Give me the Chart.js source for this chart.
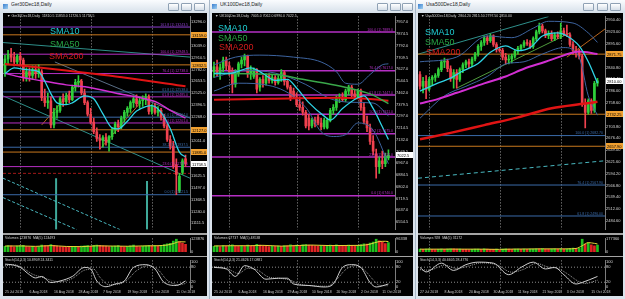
<!DOCTYPE html>
<html>
<head>
<meta charset="utf-8">
<title>Ger30 / UK100 / Usa500 Daily</title>
<script src="https://cdn.jsdelivr.net/npm/chart.js@4.4.1/dist/chart.umd.min.js"></script>
<style>
  body { margin:0; width:625px; height:299px; position:relative; overflow:hidden; background:#dbe3ec; font-family:"Liberation Sans", Arial, sans-serif; }
  .tbar { position:absolute; top:0; height:13px; background:linear-gradient(#fafcfe, #d6e0ea); }
  .frame { position:absolute; top:0; width:1px; height:299px; background:#a9b9c9; }
  .black { position:absolute; top:13px; height:283px; background:#000; }
  canvas { position:absolute; }
  .sep { position:absolute; background:#a4a4a4; }
  .btn { position:absolute; top:3px; width:11px; height:8px; border:1px solid #8fa1b4; border-radius:1px; background:linear-gradient(#ffffff, #d5dee8); box-sizing:border-box; }
  .ico { position:absolute; top:4px; width:5px; height:5px; background:linear-gradient(135deg,#3c7fd0,#9fd0f0); }
  .t { position:absolute; white-space:nowrap; transform:scale(.5); transform-origin:0 0; }
  .ttl { font-size:10px; line-height:10px; color:#1e1e1e; top:2px; }
  .hdr { font-size:7px; line-height:7px; color:#cfcfcf; }
  .sma { position:absolute; font-size:9px; line-height:9px; white-space:nowrap; }
</style>
</head>
<body>
<div class="tbar" style="left:0;width:209px"></div>
<div class="tbar" style="left:209px;width:206px"></div>
<div class="tbar" style="left:415px;width:210px"></div>
<div class="frame" style="left:209px"></div>
<div class="frame" style="left:415px"></div>
<div class="ico" style="left:3px"></div>
<div class="ico" style="left:212px"></div>
<div class="ico" style="left:418px"></div>
<div class="t ttl" style="left:11px">Ger30Dec18,Daily</div>
<div class="t ttl" style="left:220px">UK100Dec18,Daily</div>
<div class="t ttl" style="left:426px">Usa500Dec18,Daily</div>
<div class="btn" style="left:168px"></div><div class="btn" style="left:181px"></div><div class="btn" style="left:194px"></div>
<div class="btn" style="left:377px"></div><div class="btn" style="left:390px"></div><div class="btn" style="left:402px"></div>
<div class="btn" style="left:583px"></div><div class="btn" style="left:597px"></div><div class="btn" style="left:610px"></div>

<div class="black" style="left:3px;width:204px"></div>
<div class="black" style="left:212px;width:201px"></div>
<div class="black" style="left:418px;width:205px"></div>

<canvas id="gerP" width="204" height="220" style="left:3px;top:13px"></canvas>
<div class="sep" style="left:3px;top:233px;width:204px;height:2px"></div>
<canvas id="gerV" width="204" height="21" style="left:3px;top:235px"></canvas>
<div class="sep" style="left:3px;top:256px;width:204px;height:1px"></div>
<canvas id="gerS" width="204" height="39" style="left:3px;top:257px"></canvas>

<canvas id="ukP" width="201" height="220" style="left:212px;top:13px"></canvas>
<div class="sep" style="left:212px;top:233px;width:201px;height:2px"></div>
<canvas id="ukV" width="201" height="21" style="left:212px;top:235px"></canvas>
<div class="sep" style="left:212px;top:256px;width:201px;height:1px"></div>
<canvas id="ukS" width="201" height="39" style="left:212px;top:257px"></canvas>

<canvas id="usP" width="205" height="220" style="left:418px;top:13px"></canvas>
<div class="sep" style="left:418px;top:233px;width:205px;height:2px"></div>
<canvas id="usV" width="205" height="21" style="left:418px;top:235px"></canvas>
<div class="sep" style="left:418px;top:256px;width:205px;height:1px"></div>
<canvas id="usS" width="205" height="39" style="left:418px;top:257px"></canvas>

<div class="t hdr" style="left:7px;top:14px">&#9660; Ger30Dec18,Daily&nbsp; 11810.5 11853.0 11726.5 11758.5</div>
<div class="t hdr" style="left:215px;top:14px">&#9660; UK100Dec18,Daily&nbsp; 7005.0 7062.0 6990.0 7022.5</div>
<div class="t hdr" style="left:421px;top:14px">&#9660; Usa500Dec18,Daily&nbsp; 2804.20 2815.50 2797.50 2810.00</div>

<div class="sma" style="left:50px;top:27px;color:#1ecbd0">SMA10</div>
<div class="sma" style="left:50px;top:40px;color:#26a544">SMA50</div>
<div class="sma" style="left:49px;top:52px;color:#d41c1c">SMA200</div>
<div class="sma" style="left:218px;top:24px;color:#1ecbd0">SMA10</div>
<div class="sma" style="left:218px;top:34px;color:#26a544">SMA50</div>
<div class="sma" style="left:219px;top:43px;color:#d41c1c">SMA200</div>
<div class="sma" style="left:425px;top:28px;color:#1ecbd0">SMA10</div>
<div class="sma" style="left:425px;top:38px;color:#26a544">SMA50</div>
<div class="sma" style="left:426px;top:48px;color:#d41c1c">SMA200</div>

<div class="t hdr" style="left:5px;top:236px">Volumes 123876&nbsp; MA(5) 124493</div>
<div class="t hdr" style="left:5px;top:258px">Stoch(14,3,3) 10.8909 24.3411</div>
<div class="t hdr" style="left:214px;top:236px">Volumes 67737&nbsp; MA(5) 48538</div>
<div class="t hdr" style="left:214px;top:258px">Stoch(14,3,3) 21.4626 17.0881</div>
<div class="t hdr" style="left:420px;top:236px">Volumes 928&nbsp; MA(5) 31172</div>
<div class="t hdr" style="left:420px;top:258px">Stoch(14,3,3) 40.6605 28.4776</div>

<script>
// ---------- Ger30Dec18 daily ----------
const GER_OPEN = [12738, 12896, 12948, 12917, 12864, 12927, 12885, 12696, 12759, 12717,
  12780, 12738, 12759, 12475, 12422, 12443, 12180, 12317, 12338, 12464,
  12433, 12496, 12454, 12590, 12643, 12654, 12527, 12422, 12296, 12211,
  12106, 12032, 12011, 12043, 11990, 12053, 12127, 12190, 12159, 12254,
  12317, 12359, 12422, 12464, 12411, 12443, 12464, 12485, 12327, 12380,
  12317, 12338, 12264, 12169, 12022, 11948, 11748, 11464, 11664, 11810.5];
const GER_HIGH = [12938, 12991, 13012, 12970, 12948, 12970, 12906, 12801, 12801, 12822,
  12822, 12833, 12780, 12569, 12527, 12485, 12359, 12390, 12485, 12517,
  12527, 12548, 12612, 12675, 12717, 12675, 12569, 12443, 12359, 12254,
  12148, 12075, 12064, 12085, 12064, 12148, 12211, 12232, 12275, 12338,
  12380, 12443, 12496, 12506, 12485, 12496, 12517, 12506, 12401, 12411,
  12380, 12359, 12296, 12190, 12064, 12001, 11811, 11653, 11811, 11853];
const GER_LOW = [12706, 12843, 12864, 12822, 12833, 12822, 12654, 12654, 12654, 12675,
  12685, 12696, 12443, 12380, 12359, 12148, 12148, 12254, 12317, 12380,
  12401, 12422, 12443, 12548, 12590, 12506, 12401, 12275, 12190, 12085,
  12001, 11917, 11938, 11959, 11895, 12022, 12085, 12106, 12138, 12211,
  12275, 12317, 12369, 12380, 12359, 12380, 12401, 12296, 12296, 12296,
  12275, 12232, 12148, 12001, 11917, 11706, 11422, 11443, 11643, 11726.5];
const GER_CLOSE = [12896, 12948, 12917, 12864, 12927, 12885, 12696, 12759, 12717, 12780,
  12738, 12780, 12475, 12422, 12443, 12180, 12317, 12338, 12464, 12433,
  12496, 12454, 12590, 12643, 12654, 12527, 12422, 12296, 12211, 12106,
  12032, 12011, 12043, 11990, 12053, 12127, 12190, 12159, 12254, 12317,
  12359, 12422, 12464, 12411, 12443, 12464, 12485, 12327, 12380, 12317,
  12338, 12264, 12169, 12022, 11948, 11738, 11643, 11622, 11790, 11758.5];
const GER_VOL = [52000, 61000, 58000, 49000, 55000, 60000, 64000, 50000, 47000, 52000,
  49000, 51000, 66000, 60000, 58000, 70000, 62000, 55000, 50000, 48000,
  46000, 44000, 47000, 52000, 50000, 55000, 57000, 60000, 52000, 63000,
  66000, 64000, 58000, 55000, 50000, 53000, 56000, 61000, 52000, 49000,
  54000, 58000, 66000, 52000, 50000, 55000, 59000, 62000, 57000, 60000,
  58000, 64000, 70000, 78000, 82000, 104000, 123876, 98000, 86000, 72000];
const GER_VOL_MA = [[0, 56000], [5, 57000], [10, 53000], [15, 60000], [20, 52000], [25, 50000], [30, 58000],
  [35, 56000], [40, 54000], [45, 57000], [50, 59000], [53, 66000], [55, 80000], [57, 98000], [59, 97000]];
const GER_SMA10 = [[0, 12738], [3, 12800], [7, 12780], [11, 12759], [13, 12654], [15, 12520], [17, 12420],
  [20, 12400], [22, 12420], [26, 12496], [29, 12464], [32, 12300], [35, 12148], [37, 12138], [40, 12220],
  [43, 12330], [46, 12380], [48, 12390], [51, 12317], [54, 12140], [57, 11885], [59, 11832]];
const GER_SMA50 = [[0, 12740], [5, 12700], [12, 12660], [20, 12615], [28, 12585], [36, 12527],
  [45, 12470], [50, 12420], [54, 12338], [59, 12254]];
const GER_SMA200 = [[0, 12843], [20, 12770], [40, 12690], [59, 12601]];
const GER_LEVELS = [13243.5, 13159.0, 12948.5, 12832.5, 12738.0, 12538.0, 12485.0, 12264.0,
  12201.0, 12127.0, 11937.5, 11885.0, 11727.0, 11653.5, 11421.5];
const GER_LEVEL_NAMES = ['161.8', '', '100.0', '', '76.4', '61.8', '61.8', '50.0', '50.0', '', '38.2', '', '23.6', '', '0.0'];
const GER_TAGGED = [13159.0, 12832.5, 12127.0, 11885.0];
const GER_TRENDS = [
  [[-0.65, 13075], [60.46, 12917]],
  [[16.3, 12864], [60.46, 12254]],
  [[-0.65, 12496], [60.46, 11601]],
  [[-0.65, 11601], [37.6, 11042]],
  [[-0.65, 11390], [23.5, 11042]],
  [[12, 12180], [25, 12675]],
  [[31, 11917], [44, 12411]],
  [[16.7, 11601], [16.7, 11042]],
  [[46.4, 11570], [46.4, 11042]]
];
const GER_TICKS = [13296.0, 13167.5, 13039.0, 12910.5, 12782.0, 12653.5, 12525.0, 12396.5, 12268.0,
  12139.5, 12011.0, 11882.5, 11754.0, 11625.5, 11497.0, 11368.5, 11240.0, 11111.5];
const GER_STOCH_MAIN = [[0, 92], [2, 90], [5, 79], [8, 50], [10, 37], [12, 43], [15, 19], [18, 25], [22, 43],
  [26, 79], [28, 73], [30, 25], [33, 2], [36, 13], [39, 25], [42, 79], [46, 90], [49, 73], [52, 19], [56, 7], [59, 25]];
const GER_STOCH_SIGNAL = [[0, 85], [3, 90], [6, 75], [9, 52], [12, 40], [15, 28], [18, 22], [22, 35], [26, 68],
  [29, 72], [31, 40], [34, 10], [37, 12], [40, 30], [43, 66], [47, 86], [50, 70], [53, 28], [57, 10], [59, 15]];
const GER_DATES = ['25 Jul 2018', '6 Aug 2018', '16 Aug 2018', '28 Aug 2018', '7 Sep 2018', '19 Sep 2018', '1 Oct 2018', '11 Oct 2018'];
const GER_DATE_IDX = [0, 8, 16, 24, 32, 40, 48, 56];
const GER_MONTHS = [5, 28, 48];

// ---------- UK100Dec18 daily ----------
const UK_OPEN = [7610, 7644, 7597, 7637, 7692, 7651, 7610, 7522, 7597, 7665,
  7692, 7719, 7597, 7576, 7624, 7501, 7556, 7529, 7583, 7549,
  7569, 7535, 7563, 7603, 7542, 7501, 7474, 7433, 7379, 7359,
  7325, 7284, 7229, 7270, 7291, 7250, 7223, 7216, 7270, 7338,
  7359, 7427, 7433, 7413, 7474, 7501, 7454, 7433, 7474, 7359,
  7263, 7216, 7121, 7032, 6944, 6985, 6964, 7005];
const UK_HIGH = [7678, 7692, 7665, 7712, 7712, 7678, 7637, 7624, 7678, 7712,
  7733, 7726, 7651, 7637, 7631, 7569, 7583, 7597, 7597, 7590,
  7583, 7583, 7624, 7617, 7556, 7515, 7495, 7461, 7433, 7399,
  7338, 7311, 7284, 7291, 7311, 7284, 7284, 7284, 7352, 7379,
  7440, 7454, 7461, 7488, 7515, 7515, 7481, 7488, 7488, 7393,
  7298, 7243, 7161, 7066, 7012, 7053, 7039, 7062];
const UK_LOW = [7569, 7576, 7556, 7610, 7624, 7583, 7461, 7501, 7576, 7637,
  7651, 7569, 7556, 7563, 7461, 7474, 7501, 7515, 7529, 7529,
  7515, 7522, 7542, 7515, 7488, 7406, 7420, 7365, 7338, 7304,
  7216, 7202, 7216, 7223, 7236, 7202, 7209, 7209, 7257, 7311,
  7338, 7393, 7399, 7399, 7447, 7433, 7420, 7420, 7338, 7243,
  7189, 7100, 7025, 6862, 6896, 6930, 6944, 6990];
const UK_CLOSE = [7644, 7597, 7637, 7692, 7651, 7610, 7522, 7597, 7665, 7692,
  7719, 7597, 7624, 7624, 7488, 7556, 7529, 7583, 7549, 7569,
  7535, 7563, 7603, 7542, 7501, 7427, 7433, 7379, 7359, 7325,
  7229, 7229, 7270, 7243, 7250, 7223, 7270, 7270, 7338, 7359,
  7427, 7433, 7413, 7474, 7501, 7454, 7433, 7474, 7359, 7263,
  7216, 7121, 7053, 6944, 6985, 6964, 7019, 7022.5];
const UK_VOL = [42000, 45000, 40000, 47000, 43000, 46000, 52000, 44000, 41000, 45000,
  43000, 50000, 47000, 44000, 56000, 50000, 46000, 42000, 40000, 43000,
  41000, 44000, 42000, 46000, 45000, 52000, 48000, 50000, 47000, 52000,
  55000, 51000, 49000, 46000, 44000, 47000, 45000, 48000, 50000, 46000,
  52000, 49000, 47000, 45000, 50000, 48000, 46000, 49000, 54000, 60000,
  58000, 66000, 74000, 96338, 84000, 76000, 62000, 70000];
const UK_VOL_MA = [[0, 44000], [6, 46000], [12, 46000], [16, 49000], [22, 43000], [28, 48000], [32, 51000],
  [38, 47000], [44, 48000], [48, 49000], [51, 58000], [54, 78000], [56, 80000], [57, 78000]];
const UK_SMA10 = [[0, 7597], [5, 7597], [12, 7637], [16, 7597], [20, 7549], [24, 7556], [27, 7495], [31, 7393],
  [36, 7298], [38, 7270], [42, 7352], [47, 7427], [49, 7440], [52, 7352], [55, 7223], [57, 7134]];
const UK_SMA50 = [[0, 7597], [20, 7590], [29, 7556], [38, 7522], [44, 7495], [51, 7454], [57, 7386]];
const UK_SMA200 = [[0, 7413], [20, 7420], [40, 7427], [50, 7420], [57, 7406]];
const UK_BB_UP = [[0, 7658], [7, 7712], [15, 7726], [26, 7712], [35, 7678], [40, 7610], [43, 7529], [47, 7522],
  [51, 7590], [55, 7658], [57, 7665]];
const UK_BB_MID = [[0, 7570], [10, 7620], [20, 7600], [30, 7520], [38, 7420], [45, 7395], [52, 7390], [57, 7300]];
const UK_BB_LOW = [[0, 7474], [8, 7529], [19, 7508], [30, 7359], [35, 7189], [39, 7155], [43, 7168], [47, 7250],
  [52, 7200], [57, 6964]];
const UK_LEVELS = [7889.0, 7617.0, 7447.0, 7311.0, 7175.0, 7012.0, 6740.0];
const UK_LEVEL_NAMES = ['100.0', '76.4', '61.8', '50.0', '38.2', '23.6', '0.0'];
const UK_TICKS = [7957.0, 7874.5, 7792.0, 7709.5, 7627.0, 7544.5, 7462.0, 7379.5, 7297.0,
  7214.5, 7132.0, 7049.5, 6967.0, 6884.5, 6802.0, 6719.5, 6637.0, 6554.5];
const UK_STOCH_MAIN = [[0, 79], [4, 73], [7, 43], [10, 86], [13, 73], [17, 32], [21, 36], [24, 36], [26, 13],
  [31, 7], [36, 1], [39, 13], [42, 79], [45, 90], [48, 79], [51, 19], [53, 1], [57, 13]];
const UK_STOCH_SIGNAL = [[0, 82], [4, 76], [8, 55], [11, 75], [14, 70], [18, 40], [22, 35], [25, 28], [28, 12],
  [32, 6], [37, 4], [40, 30], [43, 70], [46, 86], [49, 70], [52, 30], [54, 8], [57, 6]];
const UK_DATES = ['25 Jul 2018', '6 Aug 2018', '16 Aug 2018', '29 Aug 2018', '10 Sep 2018', '20 Sep 2018', '2 Oct 2018', '11 Oct 2018'];
const UK_DATE_IDX = [0, 8, 16, 24, 32, 40, 48, 55];
const UK_MONTHS = [5, 27, 47];

// ---------- Usa500Dec18 daily ----------
const US_OPEN = [2824.4, 2797.4, 2808.7, 2790.7, 2813.2, 2817.7, 2822.2, 2835.7, 2853.7, 2855.9,
  2837.9, 2815.4, 2828.9, 2813.2, 2835.7, 2846.9, 2853.7, 2849.2, 2860.4, 2871.7,
  2889.7, 2898.7, 2909.9, 2903.2, 2914.4, 2894.2, 2882.9, 2880.7, 2864.9, 2858.2,
  2860.4, 2867.2, 2878.4, 2885.2, 2891.9, 2898.7, 2896.4, 2889.7, 2907.7, 2923.4,
  2936.9, 2925.7, 2914.4, 2918.9, 2907.7, 2916.7, 2912.2, 2925.7, 2918.9, 2916.7,
  2894.2, 2880.7, 2876.2, 2867.2, 2754.7, 2736.7, 2763.7, 2741.2, 2804.2];
const US_HIGH = [2831.2, 2817.7, 2822.2, 2817.7, 2822.2, 2826.7, 2840.2, 2858.2, 2862.7, 2860.4,
  2844.7, 2835.7, 2835.7, 2840.2, 2851.4, 2858.2, 2860.4, 2864.9, 2876.2, 2894.2,
  2903.2, 2914.4, 2914.4, 2918.9, 2916.7, 2898.7, 2887.4, 2885.2, 2873.9, 2869.4,
  2871.7, 2882.9, 2889.7, 2894.2, 2903.2, 2905.4, 2903.2, 2912.2, 2927.9, 2943.7,
  2941.4, 2930.2, 2925.7, 2925.7, 2921.2, 2923.4, 2943.7, 2932.4, 2939.2, 2921.2,
  2900.9, 2889.7, 2882.9, 2871.7, 2768.2, 2768.2, 2768.2, 2808.7, 2815.5];
const US_LOW = [2790.7, 2781.7, 2768.2, 2786.2, 2799.7, 2808.7, 2817.7, 2831.2, 2840.2, 2831.2,
  2808.7, 2792.9, 2792.9, 2808.7, 2828.9, 2840.2, 2840.2, 2842.4, 2855.9, 2867.2,
  2880.7, 2891.9, 2894.2, 2898.7, 2889.7, 2876.2, 2876.2, 2858.2, 2849.2, 2849.2,
  2851.4, 2862.7, 2871.7, 2880.7, 2887.4, 2891.9, 2885.2, 2885.2, 2903.2, 2918.9,
  2921.2, 2909.9, 2907.7, 2903.2, 2903.2, 2907.7, 2907.7, 2914.4, 2912.2, 2889.7,
  2871.7, 2864.9, 2860.4, 2750.2, 2700.7, 2732.2, 2734.4, 2736.7, 2797.5];
const US_CLOSE = [2797.4, 2808.7, 2790.7, 2813.2, 2817.7, 2822.2, 2835.7, 2853.7, 2855.9, 2837.9,
  2815.4, 2828.9, 2813.2, 2835.7, 2846.9, 2853.7, 2849.2, 2860.4, 2871.7, 2889.7,
  2898.7, 2909.9, 2903.2, 2914.4, 2894.2, 2882.9, 2880.7, 2864.9, 2858.2, 2860.4,
  2867.2, 2878.4, 2885.2, 2891.9, 2898.7, 2896.4, 2889.7, 2907.7, 2923.4, 2936.9,
  2925.7, 2914.4, 2918.9, 2907.7, 2916.7, 2912.2, 2925.7, 2918.9, 2916.7, 2894.2,
  2880.7, 2876.2, 2867.2, 2754.7, 2736.7, 2763.7, 2741.2, 2804.2, 2810.0];
const US_VOL = [38000, 34000, 36000, 40000, 33000, 31000, 35000, 38000, 34000, 36000,
  42000, 40000, 37000, 39000, 35000, 33000, 31000, 34000, 36000, 38000,
  35000, 40000, 37000, 34000, 33000, 36000, 20000, 38000, 40000, 37000,
  35000, 36000, 38000, 34000, 36000, 33000, 37000, 39000, 41000, 40000,
  45000, 38000, 36000, 39000, 42000, 37000, 40000, 38000, 41000, 47000,
  50000, 45000, 48000, 177360, 108000, 124000, 96000, 84000, 92000];
const US_VOL_MA = [[0, 36000], [10, 37000], [20, 36000], [26, 33000], [30, 37000], [40, 40000], [48, 40000],
  [51, 46000], [53, 84000], [55, 128000], [57, 118000], [58, 110000]];
const US_SMA10 = [[0, 2786], [6, 2805], [10, 2816], [13.5, 2831], [19, 2850], [23, 2876], [28, 2891], [32, 2880],
  [36, 2887], [40, 2914], [45, 2921], [48, 2914], [52, 2891], [55, 2854], [58, 2805]];
const US_SMA50 = [[0, 2757], [6, 2768], [12, 2782], [21, 2804], [28, 2820], [34, 2838], [41, 2854], [47, 2869],
  [52, 2878], [58, 2872]];
const US_SMA200 = [[0, 2674], [10, 2689], [21, 2707], [32, 2725], [43, 2746], [54, 2757], [58, 2761]];
const US_BB_UP = [[0, 2854], [12, 2865], [22, 2914], [30, 2910], [37, 2932], [42, 2948], [50, 2944], [55, 2921], [58, 2899]];
const US_BB_LOW = [[0, 2723], [8, 2775], [15, 2797], [22, 2820], [28, 2849], [34, 2854], [40, 2872], [47, 2887],
  [52, 2865], [55, 2775], [58, 2730]];
const US_LEVELS = [2871.75, 2732.25, 2657.90, 2682.70, 2567.90, 2496.00];
const US_LEVEL_NAMES = ['', '', '', '100.0', '76.4', '61.8'];
const US_TAGGED = [2871.75, 2732.25, 2657.90];
const US_TRENDS = [
  [[-0.65, 2871.7], [42, 2959]],
  [[12, 2792.9], [49, 2921.2]],
  [[48, 2864.9], [60.46, 2930.2]],
  [[-0.65, 2583.7], [60.46, 2624.2]]
];
const US_TICKS = [2950.40, 2923.00, 2895.60, 2868.20, 2840.80, 2813.40, 2786.00, 2758.60, 2731.20,
  2703.80, 2676.40, 2649.00, 2621.60, 2594.20, 2566.80, 2539.40, 2512.00, 2484.60];
const US_STOCH_MAIN = [[0, 79], [2, 61], [7, 96], [11, 67], [15, 90], [19, 100], [24, 96], [29, 50], [33, 79],
  [37, 100], [41, 73], [44, 79], [47, 50], [51, 13], [53, 19], [58, 43]];
const US_STOCH_SIGNAL = [[0, 70], [3, 68], [8, 88], [12, 75], [16, 85], [20, 97], [25, 90], [30, 60], [34, 72],
  [38, 95], [42, 80], [45, 75], [48, 55], [52, 22], [54, 15], [58, 28]];
const US_DATES = ['27 Jul 2018', '8 Aug 2018', '20 Aug 2018', '30 Aug 2018', '11 Sep 2018', '21 Sep 2018', '3 Oct 2018', '15 Oct 2018'];
const US_DATE_IDX = [0, 8, 16, 24, 32, 40, 48, 56];
const US_MONTHS = [3, 26, 46];

const STOCH_LEVELS = [80, 20];
const STOCH_TICKS = [0, 20, 80, 100];

// ---------- drawing ----------
Chart.defaults.font.family = '"Liberation Sans", Arial, sans-serif';
Chart.defaults.animation = false;

const UP = '#2fcf3a', DN = '#f0424f';
const VUP = '#1fbf1f', VDN = '#e02424';
const CYAN = '#2fd4e6', MAGENTA = '#d22fd2', GREEN = '#3aa84a', RED = '#e01414', BAND = '#3d64a0';
const ORANGE = '#c8781e', FIB = '#b52fc4', PURPLE = '#8d3fd0', BLUE = '#3a6aa8', DARKRED = '#a01818';

// grid lines at month starts, labels on fib lines, coloured price boxes on the axis
const mtExtras = {
  id: 'mtExtras',
  beforeDatasetsDraw(chart, args, opts) {
    const a = chart.chartArea, xs = chart.scales.x, ctx = chart.ctx;
    ctx.save();
    ctx.strokeStyle = 'rgba(205,205,205,0.75)';
    ctx.lineWidth = 1;
    ctx.setLineDash([1, 2]);
    (opts.vlines || []).forEach(i => {
      const px = Math.round(xs.getPixelForValue(i)) + 0.5;
      ctx.beginPath(); ctx.moveTo(px, a.top); ctx.lineTo(px, a.bottom); ctx.stroke();
    });
    ctx.restore();
  },
  afterDatasetsDraw(chart, args, opts) {
    const a = chart.chartArea, ys = chart.scales.y, ctx = chart.ctx;
    ctx.save();
    ctx.font = '3.5px "Liberation Sans", Arial';
    ctx.textAlign = 'right';
    ctx.textBaseline = 'bottom';
    (opts.notes || []).forEach(n => {
      ctx.fillStyle = n.color;
      ctx.fillText(n.text, a.right - 2, ys.getPixelForValue(n.value) - 0.5);
    });
    ctx.font = '4px "Liberation Sans", Arial';
    ctx.textAlign = 'left';
    ctx.textBaseline = 'middle';
    (opts.tags || []).forEach(t => {
      const py = Math.round(ys.getPixelForValue(t.value));
      ctx.fillStyle = t.color;
      ctx.fillRect(a.right + 1, py - 3, chart.width - a.right - 1, 6);
      ctx.fillStyle = '#000';
      ctx.fillText(t.text, a.right + 2, py + 0.5);
    });
    ctx.restore();
  }
};
Chart.register(mtExtras);

function line(points, color, width, order, dash, smooth) {
  return {
    type: 'line', order: order, data: points.map(q => ({x: q[0], y: q[1]})),
    borderColor: color, borderWidth: width, borderDash: dash || [],
    pointRadius: 0, fill: false, tension: smooth ? 0.4 : 0,
    cubicInterpolationMode: smooth ? 'monotone' : 'default'
  };
}

function yAxis(min, max, w, ticks, fmt) {
  return {
    position: 'right', min: min, max: max,
    afterFit: s => { s.width = w; },
    afterBuildTicks: s => { s.ticks = ticks.map(v => ({value: v})); },
    ticks: {font: {size: 4}, color: '#d6d6d6', padding: 1, autoSkip: false, callback: fmt},
    grid: {display: false, drawTicks: false},
    border: {display: true, color: '#7c7c7c'}
  };
}

function baseOptions(p, y, extras, xShown) {
  const x = {type: 'linear', min: p.xMin, max: p.xMax, offset: false, display: !!xShown};
  if (xShown) {
    Object.assign(x, {
      position: 'bottom',
      afterFit: s => { s.height = 7; },
      afterBuildTicks: s => { s.ticks = p.dateIdx.map(v => ({value: v})); },
      ticks: {font: {size: 3.5}, color: '#c8c8c8', padding: 1, align: 'start', autoSkip: false,
        maxRotation: 0, minRotation: 0, callback: (v, i) => p.dates[i]},
      grid: {display: false, drawTicks: false},
      border: {display: false}
    });
  }
  return {
    responsive: false, animation: false,
    layout: {padding: 0, autoPadding: false},
    events: [],
    plugins: {legend: {display: false}, tooltip: {enabled: false}, mtExtras: extras},
    scales: {x: x, y: y}
  };
}

function buildPanel(p) {
  const colors = p.close.map((c, i) => c >= p.open[i] ? UP : DN);
  const fmt = v => v.toFixed(p.dec);
  const sets = [];
  p.curves.forEach(c => sets.push(line(c.data, c.color, c.width, 0, null, true)));
  sets.push({type: 'bar', order: 1, grouped: false, barThickness: 2,
    data: p.open.map((o, i) => ({x: i, y: [o, p.close[i]]})), backgroundColor: colors});
  sets.push({type: 'bar', order: 1, grouped: false, barThickness: 1,
    data: p.high.map((h, i) => ({x: i, y: [p.low[i], h]})), backgroundColor: colors});
  p.levels.forEach((v, i) => sets.push(line([[p.xMin, v], [p.xMax, v]], p.levelColors[i], p.levelWidth, 2,
    p.levelColors[i] === DARKRED ? [3, 2] : null)));
  p.trends.forEach((t, i) => sets.push(line(t, p.trendStyles[i].color, p.trendStyles[i].width, 2, p.trendStyles[i].dash)));

  const notes = [];
  p.levels.forEach((v, i) => { if (p.levelNames[i]) notes.push({value: v, text: p.levelNames[i] + ' (1) ' + fmt(v), color: p.levelColors[i]}); });
  const tags = p.tagged.map(v => ({value: v, text: fmt(v), color: '#f0a030'}));
  const last = p.close[p.close.length - 1];
  tags.push({value: last, text: fmt(last), color: '#ffffff'});

  new Chart(document.getElementById(p.id + 'P'), {
    type: 'bar', data: {datasets: sets},
    options: baseOptions(p, yAxis(p.yMin, p.yMax, p.axisW, p.ticks, fmt), {vlines: p.months, notes: notes, tags: tags})
  });

  const vmax = Math.max(...p.vol);
  const vcol = p.vol.map((v, i) => (i > 0 && v < p.vol[i - 1]) ? VDN : VUP);
  new Chart(document.getElementById(p.id + 'V'), {
    type: 'bar',
    data: {datasets: [
      line(p.volMa, '#e8d43a', 1, 0, null, true),
      {type: 'bar', order: 1, barThickness: 2, data: p.vol.map((v, i) => ({x: i, y: v})), backgroundColor: vcol}
    ]},
    options: baseOptions(p, yAxis(-vmax * 0.07, vmax * 1.06, p.axisW, [0, vmax], v => String(Math.round(v))), {vlines: p.months})
  });

  new Chart(document.getElementById(p.id + 'S'), {
    type: 'line',
    data: {datasets: [
      line(p.stochMain, '#cfcfcf', 1, 0, null, true),
      line(p.stochSignal, '#9c9c9c', 1, 0, [1, 1], true)
    ].concat(STOCH_LEVELS.map(v => line([[p.xMin, v], [p.xMax, v]], '#8c8c8c', 1, 2, [1, 2])))},
    options: baseOptions(p, yAxis(-7, 107, p.axisW, STOCH_TICKS, v => String(v)), {vlines: p.months}, true)
  });
}

buildPanel({
  id: 'ger', axisW: 17, xMin: -0.65, xMax: 60.46, yMin: 11042.5, yMax: 13359.1, dec: 1,
  open: GER_OPEN, high: GER_HIGH, low: GER_LOW, close: GER_CLOSE, ticks: GER_TICKS,
  curves: [
    {data: GER_SMA10, color: CYAN, width: 1.3},
    {data: GER_SMA50, color: MAGENTA, width: 1.5},
    {data: GER_SMA200, color: RED, width: 2}
  ],
  levels: GER_LEVELS, levelNames: GER_LEVEL_NAMES, levelWidth: 1,
  levelColors: [PURPLE, ORANGE, FIB, ORANGE, FIB, BLUE, FIB, BLUE, FIB, ORANGE, BLUE, ORANGE, FIB, DARKRED, BLUE],
  tagged: GER_TAGGED,
  trends: GER_TRENDS,
  trendStyles: [
    {color: '#2e8f8a', width: 1}, {color: '#5a6f86', width: 1}, {color: '#2e8f8a', width: 1},
    {color: '#49b8c0', width: 1, dash: [3, 2]}, {color: '#49b8c0', width: 1, dash: [3, 2]},
    {color: '#b8641c', width: 1}, {color: '#b8641c', width: 1},
    {color: '#3fa99a', width: 2}, {color: '#3fa99a', width: 2}
  ],
  vol: GER_VOL, volMa: GER_VOL_MA, stochMain: GER_STOCH_MAIN, stochSignal: GER_STOCH_SIGNAL,
  dates: GER_DATES, dateIdx: GER_DATE_IDX, months: GER_MONTHS
});

buildPanel({
  id: 'uk', axisW: 18, xMin: -0.65, xMax: 59.15, yMin: 6501.8, yMax: 7997.8, dec: 1,
  open: UK_OPEN, high: UK_HIGH, low: UK_LOW, close: UK_CLOSE, ticks: UK_TICKS,
  curves: [
    {data: UK_SMA10, color: CYAN, width: 1.3},
    {data: UK_SMA50, color: GREEN, width: 1.5},
    {data: UK_SMA200, color: RED, width: 2},
    {data: UK_BB_UP, color: BAND, width: 1},
    {data: UK_BB_MID, color: BAND, width: 1},
    {data: UK_BB_LOW, color: BAND, width: 1}
  ],
  levels: UK_LEVELS, levelNames: UK_LEVEL_NAMES, levelWidth: 1.5,
  levelColors: [FIB, FIB, FIB, FIB, FIB, FIB, FIB],
  tagged: [],
  trends: [], trendStyles: [],
  vol: UK_VOL, volMa: UK_VOL_MA, stochMain: UK_STOCH_MAIN, stochSignal: UK_STOCH_SIGNAL,
  dates: UK_DATES, dateIdx: UK_DATE_IDX, months: UK_MONTHS
});

buildPanel({
  id: 'us', axisW: 18, xMin: -0.65, xMax: 60.46, yMin: 2464.4, yMax: 2959.4, dec: 2,
  open: US_OPEN, high: US_HIGH, low: US_LOW, close: US_CLOSE, ticks: US_TICKS,
  curves: [
    {data: US_SMA10, color: CYAN, width: 1.3},
    {data: US_SMA50, color: MAGENTA, width: 2},
    {data: US_SMA200, color: RED, width: 2.5},
    {data: US_BB_UP, color: BAND, width: 1},
    {data: US_BB_LOW, color: BAND, width: 1}
  ],
  levels: US_LEVELS, levelNames: US_LEVEL_NAMES, levelWidth: 1,
  levelColors: [ORANGE, ORANGE, ORANGE, BLUE, BLUE, BLUE],
  tagged: US_TAGGED,
  trends: US_TRENDS,
  trendStyles: [
    {color: '#2e8f8a', width: 1}, {color: '#4f9a3c', width: 1},
    {color: '#b8641c', width: 1}, {color: '#49b8c0', width: 1, dash: [4, 3]}
  ],
  vol: US_VOL, volMa: US_VOL_MA, stochMain: US_STOCH_MAIN, stochSignal: US_STOCH_SIGNAL,
  dates: US_DATES, dateIdx: US_DATE_IDX, months: US_MONTHS
});
</script>
</body>
</html>
